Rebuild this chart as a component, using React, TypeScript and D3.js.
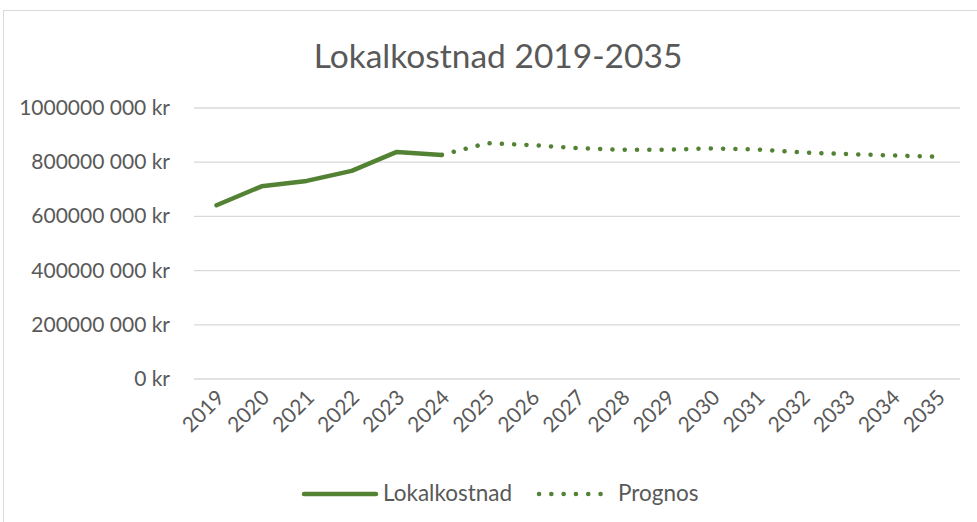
import React, { useEffect, useRef } from 'react';
import * as d3 from 'd3';

const years = ['2019', '2020', '2021', '2022', '2023', '2024', '2025', '2026', '2027', '2028', '2029', '2030', '2031', '2032', '2033', '2034', '2035'];
const actualYears = ['2019', '2020', '2021', '2022', '2023', '2024'];
const actualValues = [641e6, 711e6, 731e6, 768e6, 838e6, 827e6];
const forecastYears = ['2024', '2025', '2026', '2027', '2028', '2029', '2030', '2031', '2032', '2033', '2034', '2035'];
const forecastValues = [827e6, 870e6, 863e6, 852e6, 846e6, 846e6, 851e6, 847e6, 836e6, 830e6, 825e6, 820e6];
const yTicks = [0, 200e6, 400e6, 600e6, 800e6, 1000e6];

const GREEN = '#548235';
const TEXT = '#595959';
const FONT = 'Lato, "Open Sans", sans-serif';

const fmt = (v: number) => (v === 0 ? '0 kr' : `${Math.round(v / 1000)} 000 kr`);

const App = () => {
  const ref = useRef<SVGSVGElement>(null);

  useEffect(() => {
    const svg = d3.select(ref.current);
    svg.selectAll('*').remove();

    const W = 977, H = 522;
    const left = 194, right = 960, top = 108, bottom = 379;

    // chart frame
    svg.append('rect')
      .attr('x', 3.5).attr('y', 10.5)
      .attr('width', W).attr('height', H)
      .attr('fill', 'white').attr('stroke', '#d9d9d9');

    svg.append('text')
      .attr('x', 498).attr('y', 68)
      .attr('text-anchor', 'middle')
      .attr('font-family', FONT).attr('font-size', 33.5)
      .attr('fill', TEXT)
      .text('Lokalkostnad 2019-2035');

    const x = d3.scaleBand().domain(years).range([left, right]);
    const y = d3.scaleLinear().domain([0, 1000e6]).range([bottom, top]);
    const cx = (d: string) => (x(d) as number) + x.bandwidth() / 2;

    // gridlines
    svg.append('g').selectAll('line')
      .data(yTicks)
      .enter().append('line')
      .attr('x1', left).attr('x2', right)
      .attr('y1', d => y(d)).attr('y2', d => y(d))
      .attr('stroke', '#d9d9d9').attr('stroke-width', 1.3);

    svg.append('g').selectAll('text')
      .data(yTicks)
      .enter().append('text')
      .attr('x', 170).attr('y', d => y(d) + 7)
      .attr('text-anchor', 'end')
      .attr('font-family', FONT).attr('font-size', 21)
      .attr('fill', TEXT)
      .text(d => fmt(d));

    svg.append('g').selectAll('text')
      .data(years)
      .enter().append('text')
      .attr('transform', d => `translate(${cx(d) + 9},${bottom + 20}) rotate(-45)`)
      .attr('text-anchor', 'end')
      .attr('font-family', FONT).attr('font-size', 21)
      .attr('fill', TEXT)
      .text(d => d);

    const line = d3.line<[string, number]>()
      .x(d => cx(d[0]))
      .y(d => y(d[1]));

    svg.append('path')
      .attr('d', line(actualYears.map((d, i) => [d, actualValues[i]] as [string, number])))
      .attr('fill', 'none').attr('stroke', GREEN)
      .attr('stroke-width', 4.5)
      .attr('stroke-linecap', 'round').attr('stroke-linejoin', 'round');

    svg.append('path')
      .attr('d', line(forecastYears.map((d, i) => [d, forecastValues[i]] as [string, number])))
      .attr('fill', 'none').attr('stroke', GREEN)
      .attr('stroke-width', 4.5)
      .attr('stroke-dasharray', '0.1 12.2')
      .attr('stroke-linecap', 'round');

    // legend
    const lg = svg.append('g');
    lg.append('line')
      .attr('x1', 304).attr('x2', 376).attr('y1', 494).attr('y2', 494)
      .attr('stroke', GREEN).attr('stroke-width', 4.5).attr('stroke-linecap', 'round');
    lg.append('text')
      .attr('x', 383).attr('y', 501)
      .attr('font-family', FONT).attr('font-size', 22.5).attr('fill', TEXT)
      .text('Lokalkostnad');
    lg.append('line')
      .attr('x1', 539).attr('x2', 604).attr('y1', 494).attr('y2', 494)
      .attr('stroke', GREEN).attr('stroke-width', 4.5)
      .attr('stroke-dasharray', '0.1 12.2').attr('stroke-linecap', 'round');
    lg.append('text')
      .attr('x', 618).attr('y', 501)
      .attr('font-family', FONT).attr('font-size', 22.5).attr('fill', TEXT)
      .text('Prognos');
  }, []);

  return (
    <svg ref={ref} width={977} height={522}
      style={{ position: 'absolute', left: 0, top: 0, display: 'block' }} />
  );
};

export default App;
